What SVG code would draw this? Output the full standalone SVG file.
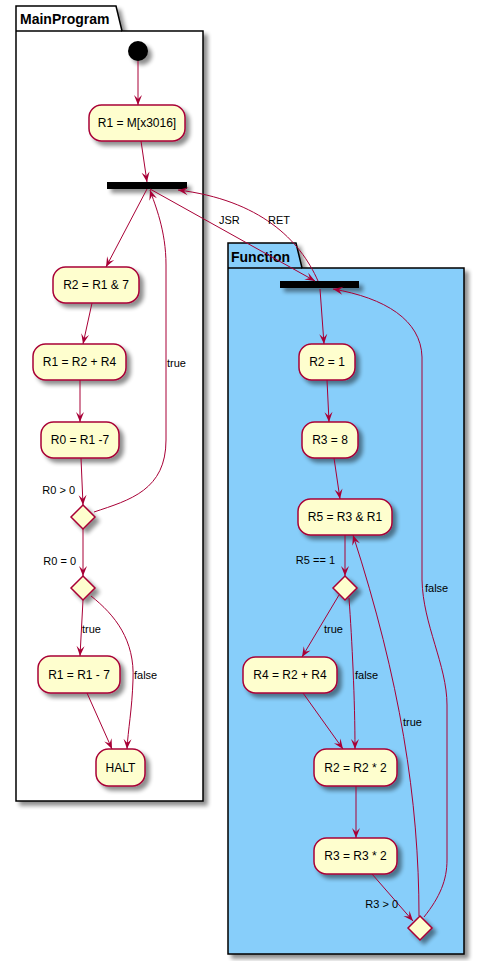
<svg xmlns="http://www.w3.org/2000/svg" width="479" height="961" viewBox="0 0 479 961">
<defs>
<filter id="sh" filterUnits="userSpaceOnUse" x="0" y="0" width="479" height="961">
<feGaussianBlur in="SourceAlpha" stdDeviation="2" result="b"/>
<feOffset in="b" dx="4" dy="4" result="o"/>
<feComponentTransfer in="o" result="s"><feFuncA type="linear" slope="0.45"/></feComponentTransfer>
<feMerge><feMergeNode in="s"/><feMergeNode in="SourceGraphic"/></feMerge>
</filter>
<marker id="ah" viewBox="-11 -5 12 10" refX="0" refY="0" markerWidth="12" markerHeight="10" markerUnits="userSpaceOnUse" orient="auto">
<path d="M0,0 L-10,-4 L-6,0 L-10,4 Z" fill="#A80036"/>
</marker>
</defs>
<style>
.pkg{stroke:#000;stroke-width:1.5;filter:url(#sh)}
.pt{font-family:"Liberation Sans",Arial,sans-serif;font-size:14px;font-weight:bold;fill:#000}
.act rect{fill:#FEFECE;stroke:#A80036;stroke-width:1.5;filter:url(#sh)}
.act text{font-family:"Liberation Sans",Arial,sans-serif;font-size:12px;fill:#000;text-anchor:middle}
.dia{fill:#FEFECE;stroke:#A80036;stroke-width:1.5;filter:url(#sh)}
.bar{fill:#000;filter:url(#sh)}
.e path{fill:none;stroke:#A80036;stroke-width:1;marker-end:url(#ah)}
.lb{font-family:"Liberation Sans",Arial,sans-serif;font-size:11px;fill:#000}
.lr{text-anchor:end}
</style>
<rect width="479" height="961" fill="#fff"/>
<g id="pkg-main">
<path class="pkg" d="M16,6 L116,6 L122,31 L203,31 L203,801 L16,801 Z" fill="#fff"/>
<line x1="16" y1="31" x2="122" y2="31" stroke="#000" stroke-width="1.5"/>
<text class="pt" x="20" y="24">MainProgram</text>
</g>
<g id="pkg-func">
<path class="pkg" d="M228,243 L296,243 L302,268 L464,268 L464,954 L228,954 Z" fill="#87CEFA"/>
<line x1="228" y1="268" x2="302" y2="268" stroke="#000" stroke-width="1.5"/>
<text class="pt" x="231" y="262">Function</text>
</g>
<g id="start"><circle cx="138" cy="51" r="10" fill="#000" filter="url(#sh)"/></g>
<g id="n1" class="act"><rect x="89" y="105" width="96" height="36" rx="12.5"/><text x="137" y="127">R1 = M[x3016]</text></g>
<g id="bar1"><rect class="bar" x="107" y="182" width="80" height="7"/></g>
<g id="n2" class="act"><rect x="53" y="267" width="86" height="36" rx="12.5"/><text x="96" y="289">R2 = R1 &amp; 7</text></g>
<g id="n3" class="act"><rect x="33" y="344" width="93" height="36" rx="12.5"/><text x="79.5" y="366">R1 = R2 + R4</text></g>
<g id="n4" class="act"><rect x="41" y="422" width="78" height="36" rx="12.5"/><text x="80" y="444">R0 = R1 -7</text></g>
<g id="d1"><polygon class="dia" points="83,505 95,517 83,529 71,517"/></g>
<g id="d2"><polygon class="dia" points="83,576 95,588 83,600 71,588"/></g>
<g id="n5" class="act"><rect x="38" y="656" width="82" height="37" rx="12.5"/><text x="79" y="679">R1 = R1 - 7</text></g>
<g id="halt" class="act"><rect x="96" y="749" width="49" height="37" rx="12.5"/><text x="120.5" y="772">HALT</text></g>
<g id="bar2"><rect class="bar" x="280" y="281" width="79" height="7"/></g>
<g id="f1" class="act"><rect x="299" y="344" width="56" height="36" rx="12.5"/><text x="327" y="366">R2 = 1</text></g>
<g id="f2" class="act"><rect x="302" y="422" width="56" height="36" rx="12.5"/><text x="330" y="444">R3 = 8</text></g>
<g id="f3" class="act"><rect x="298" y="499" width="94" height="36" rx="12.5"/><text x="345" y="521">R5 = R3 &amp; R1</text></g>
<g id="d3"><polygon class="dia" points="345,576 357,588 345,600 333,588"/></g>
<g id="f4" class="act"><rect x="243" y="657" width="94" height="36" rx="12.5"/><text x="290" y="679">R4 = R2 + R4</text></g>
<g id="f5" class="act"><rect x="314" y="749" width="83" height="37" rx="12.5"/><text x="355.5" y="772">R2 = R2 * 2</text></g>
<g id="f6" class="act"><rect x="314" y="838" width="83" height="36" rx="12.5"/><text x="355.5" y="860">R3 = R3 * 2</text></g>
<g id="d4"><polygon class="dia" points="420,916 432,928 420,940 408,928"/></g>
<g id="connectors" class="e">
<path d="M138,61 L138,105"/>
<path d="M141,141 L147,182"/>
<path d="M147,189 L106,267"/>
<path d="M150,189 L315,281"/>
<path d="M318,281 C300,240 260,200 178,190"/>
<path d="M92,303 L83,344"/>
<path d="M80,380 L80,422"/>
<path d="M81,458 L83,505"/>
<path d="M83,529 L83,576"/>
<path d="M83,600 L80,656"/>
<path d="M91,596 C115,615 135,640 133,680 C132,710 128,730 127,749"/>
<path d="M87,693 L112,749"/>
<path d="M94,512 C130,500 166,490 166,440 L166,265 C166,230 155,205 150,190"/>
<path d="M320,289 L324,344"/>
<path d="M327,380 L329,422"/>
<path d="M334,458 L340,499"/>
<path d="M345,535 L345,576"/>
<path d="M339,595 L302,657"/>
<path d="M349,598 C352,640 355,700 355,749"/>
<path d="M303,693 L343,749"/>
<path d="M356,786 L356,838"/>
<path d="M372,874 L413,921"/>
<path d="M419,916 C419,800 400,680 353,535"/>
<path d="M424,917 C440,897 447,880 447,860 L447,705 C447,665 423,625 422,580 L422,357 C421,320 385,298 333,289"/>
</g>
<g id="labels">
<text class="lb" x="219" y="224">JSR</text>
<text class="lb" x="268" y="224">RET</text>
<text class="lb" x="167" y="367">true</text>
<text class="lb lr" x="75" y="494">R0 &gt; 0</text>
<text class="lb lr" x="76" y="565">R0 = 0</text>
<text class="lb" x="82" y="633">true</text>
<text class="lb" x="134" y="679">false</text>
<text class="lb lr" x="335" y="564">R5 == 1</text>
<text class="lb" x="324" y="633">true</text>
<text class="lb" x="355" y="679">false</text>
<text class="lb" x="403" y="726">true</text>
<text class="lb" x="425" y="592">false</text>
<text class="lb lr" x="398" y="908">R3 &gt; 0</text>
</g>
</svg>
